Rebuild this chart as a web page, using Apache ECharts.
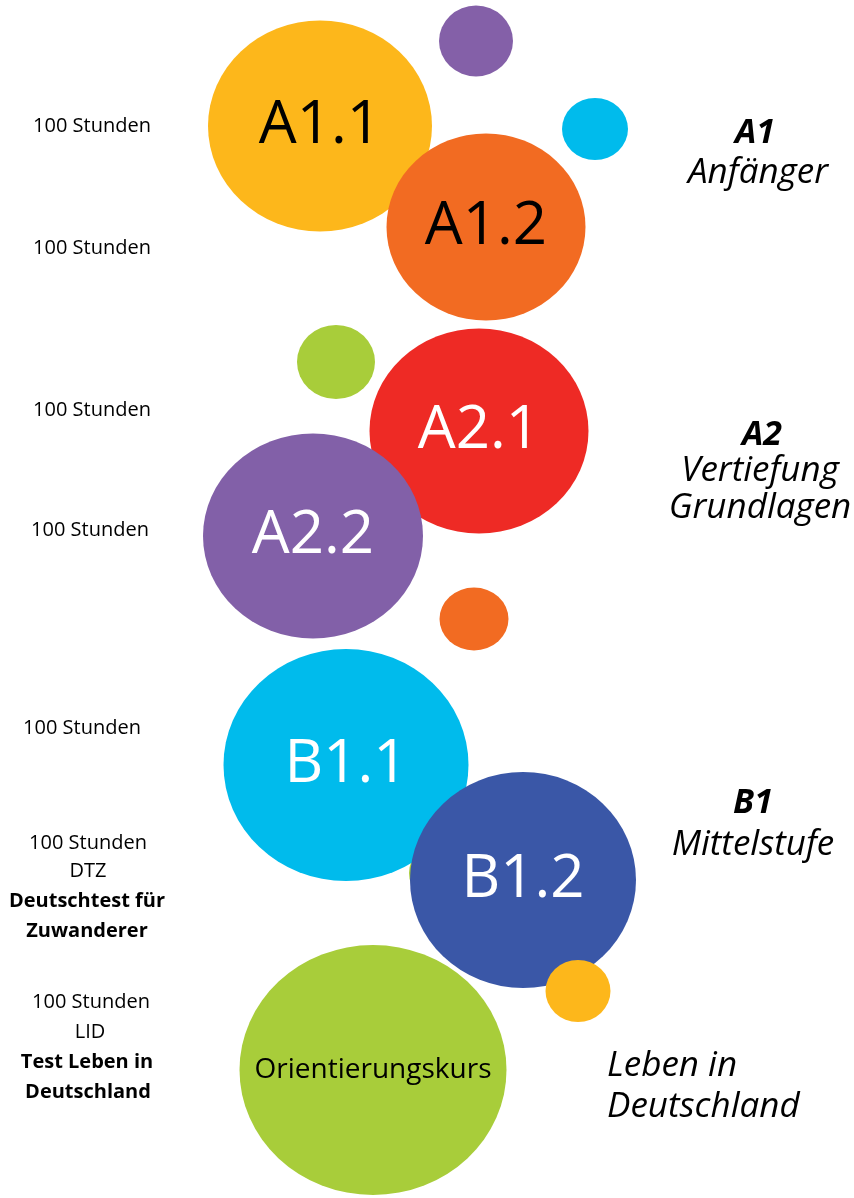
<!DOCTYPE html>
<html>
<head>
    <meta charset="utf-8">
    <script src="https://cdn.jsdelivr.net/npm/echarts@6/dist/echarts.min.js"></script>
    <style>
        html, body { margin: 0; padding: 0; background: #fff; }
    </style>
</head>
<body>
    <div id="main" style="width: 854px;height:1198px;"></div>
</body>
</html>

<script type="text/javascript">

// bubbles, in drawing order (later ones lie on top)
var bubbleNames = ['', 'A1.1', 'A1.2', '', '', 'A2.1', 'A2.2', '', '', 'B1.1', 'Orientierungskurs', 'B1.2', ''];
var bubbleX = [476, 320, 486, 595, 336, 479, 313, 474, 440, 346, 373, 523, 578];
var bubbleY = [41, 126, 227, 129, 362, 431, 536, 619, 873, 765, 1070, 880, 991];
var bubbleW = [74, 224, 199, 66, 78, 219, 220, 69, 62, 245, 267, 226, 65];
var bubbleH = [71, 211, 187, 62, 74, 205, 205, 63, 60, 232, 250, 216, 62];
var bubbleColors = ['#8460a8', '#fdb71b', '#f26b22', '#00bbec', '#a8cd3a', '#ee2a25', '#8260a8', '#f26b22', '#a8cd3a', '#00bbec', '#a8cd3a', '#3a57a7', '#fdb71b'];
var bubbleTextColors = ['#000', '#000', '#000', '#000', '#000', '#fff', '#fff', '#000', '#000', '#fff', '#000', '#fff', '#000'];

// hours column on the left
var leftText = ['100 Stunden', '100 Stunden', '100 Stunden', '100 Stunden', '100 Stunden',
    '100 Stunden', 'DTZ', 'Deutschtest für', 'Zuwanderer',
    '100 Stunden', 'LID', 'Test Leben in', 'Deutschland'];
var leftX = [92, 92, 92, 90, 82, 88, 88, 87, 87, 91, 90, 87, 88];
var leftY = [126, 248, 410, 530, 728, 843, 871, 901, 931, 1002, 1032, 1062, 1092];
var leftBold = [0, 0, 0, 0, 0, 0, 0, 1, 1, 0, 0, 1, 1];

// level names on the right
var rightText = ['A1', 'Anfänger', 'A2', 'Vertiefung', 'Grundlagen', 'B1', 'Mittelstufe', 'Leben in', 'Deutschland'];
var rightX = [755, 758, 762, 760, 760, 753, 753, 607, 607];
var rightY = [133, 173, 435, 471, 508, 803, 845, 1066, 1107];
var rightBold = [1, 0, 1, 0, 0, 1, 0, 0, 0];
var rightAlign = ['center', 'center', 'center', 'center', 'center', 'center', 'center', 'left', 'left'];

var FONT = '"Open Sans", sans-serif';

var bubbleData = bubbleX.map(function (x, i) {
    return {
        name: bubbleNames[i],
        value: [x, bubbleY[i], bubbleW[i], bubbleH[i]],
        itemStyle: { color: bubbleColors[i], opacity: 1 },
        label: {
            color: bubbleTextColors[i],
            fontSize: bubbleNames[i].length > 5 ? 28 : 60
        }
    };
});

var leftData = leftText.map(function (t, i) {
    return {
        name: t,
        value: [leftX[i], leftY[i]],
        label: { fontWeight: leftBold[i] ? 'bold' : 'normal' }
    };
});

var rightData = rightText.map(function (t, i) {
    return {
        name: t,
        value: [rightX[i], rightY[i]],
        label: {
            fontWeight: rightBold[i] ? 'bold' : 'normal',
            fontSize: rightBold[i] ? 34 : 35,
            align: rightAlign[i]
        }
    };
});

var myChart = echarts.init(document.getElementById('main'));
var option = {
    animation: false,
    backgroundColor: '#fff',
    grid: { left: 0, right: 0, top: 0, bottom: 0 },
    xAxis: { type: 'value', min: 0, max: 854, show: false },
    yAxis: { type: 'value', min: 0, max: 1198, inverse: true, show: false },
    series: [
        {
            type: 'scatter',
            data: bubbleData,
            symbol: 'circle',
            symbolSize: function (val) { return [val[2], val[3]]; },
            label: {
                show: true,
                position: 'inside',
                formatter: '{b}',
                fontFamily: FONT
            },
            emphasis: { disabled: true },
            silent: true
        },
        {
            type: 'scatter',
            data: leftData,
            symbolSize: 0,
            itemStyle: { opacity: 1 },
            label: {
                show: true,
                position: 'inside',
                formatter: '{b}',
                color: '#000',
                fontSize: 20,
                fontFamily: FONT
            },
            silent: true
        },
        {
            type: 'scatter',
            data: rightData,
            symbolSize: 0,
            itemStyle: { opacity: 1 },
            label: {
                show: true,
                position: 'inside',
                formatter: '{b}',
                color: '#000',
                fontStyle: 'italic',
                fontFamily: FONT
            },
            silent: true
        }
    ]
};
myChart.setOption(option);

</script>
